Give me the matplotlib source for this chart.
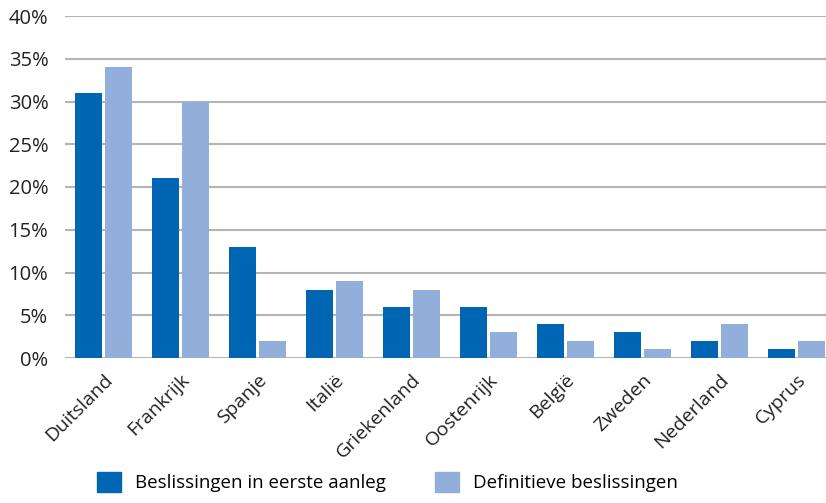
import matplotlib.pyplot as plt
import numpy as np
from matplotlib.patches import Patch

landen = ["Duitsland", "Frankrijk", "Spanje", "Italië", "Griekenland",
          "Oostenrijk", "België", "Zweden", "Nederland", "Cyprus"]
eerste_aanleg = [31, 21, 13, 8, 6, 6, 4, 3, 2, 1]
definitief = [34, 30, 2, 9, 8, 3, 2, 1, 4, 2]
yticks = [0, 5, 10, 15, 20, 25, 30, 35, 40]

donker = "#0066b3"
licht = "#92afdc"

plt.rcParams["font.family"] = ["Open Sans", "DejaVu Sans"]

fig = plt.figure(figsize=(8.26, 5.03), dpi=100)
ax = fig.add_axes([65 / 826, 1 - 358 / 503, 770 / 826, 342 / 503])

x = np.arange(len(landen))
w = 27 / 77
ax.bar(x - 0.2, eerste_aanleg, width=w, color=donker, zorder=3)
ax.bar(x + 0.2, definitief, width=w, color=licht, zorder=3)

ax.set_xlim(-0.5, len(landen) - 0.5)
ax.set_ylim(0, 40)
ax.set_yticks(yticks)
ax.set_yticklabels([f"{v}%" for v in yticks], fontsize=14.5, color="#222222")
ax.yaxis.grid(True, color="#b4b4b4", linewidth=1.5, zorder=0)
ax.set_axisbelow(True)
ax.tick_params(axis="both", length=0)
ax.tick_params(axis="y", pad=12)

ax.set_xticks(x)
ax.set_xticklabels(landen, rotation=45, ha="right", rotation_mode="anchor",
                   fontsize=14, color="#222222")
ax.tick_params(axis="x", pad=9)
for s in ax.spines.values():
    s.set_visible(False)

handles = [Patch(color=donker, label="Beslissingen in eerste aanleg"),
           Patch(color=licht, label="Definitieve beslissingen")]
fig.legend(handles=handles, loc="lower left", bbox_to_anchor=(80 / 826, -0.012),
           ncol=2, frameon=False, fontsize=13.5, handlelength=1.3, handleheight=1.3,
           handletextpad=0.75, columnspacing=2.6)

fig.savefig("out.png", dpi=100)
